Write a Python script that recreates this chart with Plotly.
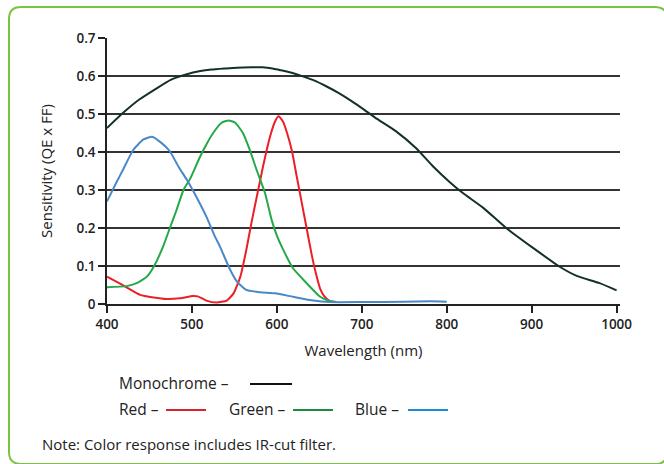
import plotly.graph_objects as go

# ---- data ----
mono_wl = [400, 419, 438, 458, 475, 493, 510, 523, 540, 553, 570, 583, 595, 603, 615, 628,
           643, 658, 673, 688, 703, 718, 740, 764, 784, 804, 819, 843, 870, 902, 933, 953, 980, 1000]
mono_val = [0.463, 0.503, 0.538, 0.567, 0.590, 0.604, 0.613, 0.617, 0.620, 0.622, 0.623, 0.623,
            0.620, 0.616, 0.610, 0.601, 0.589, 0.573, 0.555, 0.534, 0.511, 0.487, 0.455, 0.410,
            0.362, 0.320, 0.292, 0.253, 0.200, 0.147, 0.098, 0.074, 0.055, 0.036]

blue_wl = [400, 410, 419, 431, 443, 453, 464, 474, 484, 494, 505, 517, 527, 533, 545, 553,
           564, 580, 598, 619, 643, 662, 700, 750, 780, 800]
blue_val = [0.270, 0.315, 0.354, 0.406, 0.433, 0.440, 0.424, 0.402, 0.362, 0.327, 0.283, 0.230,
            0.178, 0.151, 0.090, 0.059, 0.037, 0.031, 0.028, 0.019, 0.009, 0.005, 0.005, 0.006,
            0.007, 0.006]

green_wl = [400, 423, 435, 447, 455, 466, 474, 482, 490, 498, 509, 517, 525, 535, 543, 551,
            560, 568, 576, 586, 594, 600, 607, 619, 635, 651, 662, 670]
green_val = [0.044, 0.047, 0.055, 0.072, 0.098, 0.151, 0.200, 0.248, 0.300, 0.330, 0.385, 0.420,
             0.450, 0.477, 0.483, 0.477, 0.450, 0.406, 0.354, 0.292, 0.220, 0.180, 0.145, 0.094,
             0.055, 0.019, 0.008, 0.005]

red_wl = [400, 411, 423, 439, 455, 470, 486, 501, 507, 517, 529, 541, 549, 557, 564, 570, 578,
          584, 592, 598, 602, 607, 612, 618, 623, 629, 635, 641, 646, 651, 656, 662, 670]
red_val = [0.072, 0.059, 0.044, 0.024, 0.017, 0.013, 0.015, 0.021, 0.020, 0.009, 0.004, 0.009,
           0.028, 0.072, 0.142, 0.213, 0.300, 0.365, 0.441, 0.481, 0.494, 0.481, 0.450, 0.400,
           0.340, 0.270, 0.200, 0.130, 0.080, 0.040, 0.020, 0.008, 0.005]

x_ticks = [400, 500, 600, 700, 800, 900, 1000]
y_ticks = [0, 0.1, 0.2, 0.3, 0.4, 0.5, 0.6, 0.7]
y_ticktext = ["0", "0.1", "0.2", "0.3", "0.4", "0.5", "0.6", "0.7"]

series = [
    ("Monochrome", mono_wl, mono_val, "#14302b", "#111111"),
    ("Red", red_wl, red_val, "#ec1f27", "#d8232a"),
    ("Green", green_wl, green_val, "#25a849", "#1d8a40"),
    ("Blue", blue_wl, blue_val, "#4a88c8", "#1e8ad4"),
]

W, H = 664, 464
L, R, T, B = 107, 620, 38, 304
FONT = "Open Sans"


def px(x):
    return (x - L) / (R - L)


def py(y):
    return (B - y) / (B - T)


fig = go.Figure()
for name, xs, ys, col, _ in series:
    fig.add_trace(go.Scatter(x=xs, y=ys, mode="lines", name=name,
                             line=dict(color=col, width=2, shape="spline", smoothing=0.5),
                             showlegend=False))

fig.update_layout(
    width=W, height=H,
    margin=dict(l=L, r=W - R, t=T, b=H - B),
    paper_bgcolor="white", plot_bgcolor="white",
    font=dict(family=FONT, color="#222"),
    xaxis=dict(range=[400, 1004], tickvals=x_ticks, ticks="outside", ticklen=7,
               tickwidth=1.5, tickcolor="#222", showline=True, linecolor="#222",
               linewidth=1.5, showgrid=False, zeroline=False,
               tickfont=dict(size=13.5, weight=600, color="#222"),
               title=dict(text="Wavelength (nm)", font=dict(size=15, color="#222"),
                          standoff=14)),
    yaxis=dict(range=[0, 0.7], tickvals=y_ticks, ticktext=y_ticktext, ticks="outside",
               ticklen=7, tickwidth=1.5, tickcolor="#222", showline=True,
               linecolor="#222", linewidth=1.5, showgrid=True, gridcolor="#333",
               gridwidth=1.5, zeroline=False,
               tickfont=dict(size=13.5, weight=600, color="#222"),
               title=dict(text="Sensitivity (QE x FF)", font=dict(size=15, color="#222"),
                          standoff=20)),
)

# rounded green frame
x0, y0, x1, y1, r = 9, 7, 667, 464, 12
pts = [("M", x0 + r, y0), ("L", x1 - r, y0), ("Q", x1, y0, x1, y0 + r), ("L", x1, y1 - r),
       ("Q", x1, y1, x1 - r, y1), ("L", x0 + r, y1), ("Q", x0, y1, x0, y1 - r),
       ("L", x0, y0 + r), ("Q", x0, y0, x0 + r, y0)]
path = ""
for p in pts:
    cmd = p[0]
    coords = p[1:]
    s = " ".join(f"{px(coords[i]):.5f},{py(coords[i + 1]):.5f}" for i in range(0, len(coords), 2))
    path += f"{cmd}{s} "
path += "Z"
fig.add_shape(type="path", path=path, xref="paper", yref="paper",
              line=dict(color="#7cc242", width=2), layer="below")

# custom legend
legend_items = [
    (0, "Monochrome\u00a0–", 117, 383, 250, 292),
    (1, "Red\u00a0–", 117, 409, 166, 206),
    (2, "Green\u00a0–", 227, 409, 293, 333),
    (3, "Blue\u00a0–", 353, 409, 408, 448),
]
for idx, label, tx, ty, lx0, lx1 in legend_items:
    fig.add_annotation(x=px(tx), y=py(ty), xref="paper", yref="paper", text=label,
                       showarrow=False, xanchor="left", yanchor="middle",
                       font=dict(size=15.5, color="#222"))
    fig.add_shape(type="line", xref="paper", yref="paper", x0=px(lx0), x1=px(lx1),
                  y0=py(ty + 1), y1=py(ty + 1),
                  line=dict(color=series[idx][4], width=2))

fig.add_annotation(x=px(40), y=py(444), xref="paper", yref="paper",
                   text="Note: Color response includes IR-cut filter.", showarrow=False,
                   xanchor="left", yanchor="middle", font=dict(size=15, color="#222"))

fig.write_html("out.html", config={"displayModeBar": False},
               post_script="document.body.style.margin='0';document.body.style.overflow='hidden';")
